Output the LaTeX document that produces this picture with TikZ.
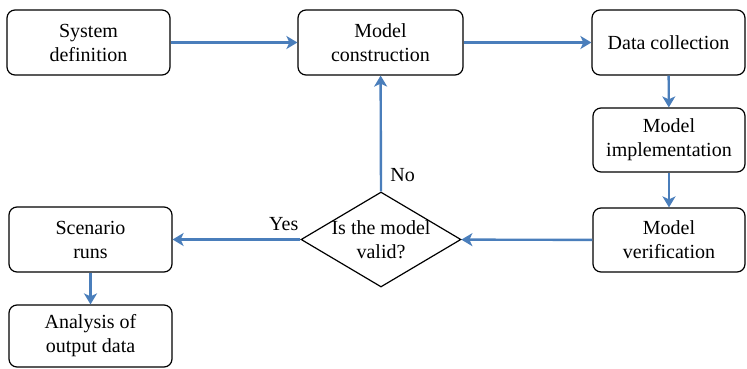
\documentclass[tikz,border=0pt]{standalone}
\usepackage{fontspec}
\setmainfont{Liberation Serif}
\usetikzlibrary{positioning, arrows.meta, shapes.geometric}
\definecolor{flowblue}{RGB}{74,126,187}

\begin{document}
\begin{tikzpicture}[x=1pt, y=-1pt,
        font=\fontsize{20}{24}\selectfont,
        procbox/.style={rectangle, rounded corners=8pt, draw, line width=1.2pt, align=center,
            minimum width=163pt, minimum height=65pt, inner sep=0pt},
        arrowline/.style={draw=flowblue, line width=2.4pt, -{Stealth[length=11pt, width=13pt, inset=3pt]}}]
                \useasboundingbox (0,0) rectangle (747,369);
                \node[procbox] (sys) at (88.5,42.5) {System\\definition};
                \node[procbox, minimum width=165pt] (cons) at (380.5,42.5) {Model\\construction};
                \node[procbox, minimum width=153pt] (data) at (668.5,42.5) {Data collection};
                \node[procbox, minimum width=152pt, minimum height=64pt] (impl) at (669,140) {Model\\implementation};
                \node[procbox, minimum width=152pt, minimum height=64pt] (verif) at (669,240) {Model\\verification};
                \node[diamond, draw, line width=1.2pt, minimum width=160pt, minimum height=95pt, inner sep=0pt,
                    label={[align=center]center:Is the model\\valid?}] (valid) at (381,239.5) {};
                \node[procbox] (runs) at (90.5,239.5) {Scenario\\runs};
                \node[procbox, minimum height=62pt] (analysis) at (90.5,336) {Analysis of\\output data};
                \draw[arrowline] (sys) -- (cons);
                \draw[arrowline] (cons) -- (data);
                \draw[arrowline] (data) -- (impl);
                \draw[arrowline] (impl) -- (verif);
                \draw[arrowline] (verif) -- (valid);
                \draw[arrowline] (valid.north) -- node[pos=0.14, right=5pt] (no) {No} (cons);
                \draw[arrowline] (valid.west) -- node[pos=0.13, above=4pt] (yes) {Yes} (runs);
                \draw[arrowline] (runs) -- (analysis);
            \end{tikzpicture}
\end{document}
